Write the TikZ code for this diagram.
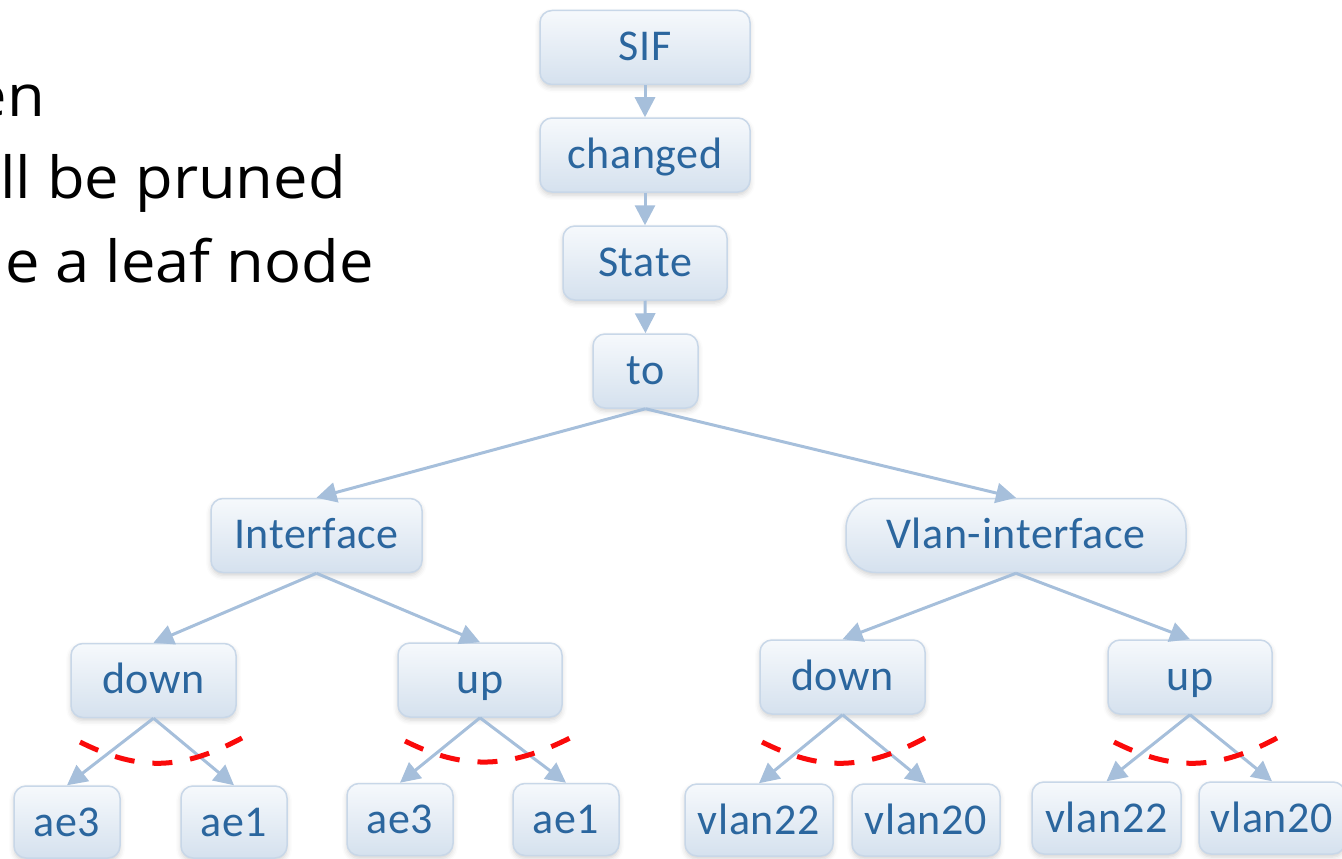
\documentclass[tikz,border=0pt]{standalone}
\usepackage{fontspec}
\setmainfont{Carlito}
\newfontfamily\notefont[FakeStretch=1.06]{Open Sans}
\usetikzlibrary{arrows.meta,shadows.blur}
\definecolor{boxtext}{RGB}{43,102,158}
\definecolor{boxedge}{RGB}{200,215,232}
\definecolor{boxtop}{RGB}{246,249,252}
\definecolor{boxbot}{RGB}{213,225,238}
\definecolor{linkcol}{RGB}{166,191,219}
\definecolor{prunered}{RGB}{250,10,10}
\begin{document}
\begin{tikzpicture}[x=1pt,y=-1pt,
  box/.style={draw=boxedge, line width=1.5pt, rounded corners=12pt,
    top color=boxtop, bottom color=boxbot, text=boxtext,
    font=\addfontfeature{LetterSpace=1.5}\fontsize{44}{50}\selectfont, minimum height=74pt, inner sep=0pt,
    text height=34pt, text depth=8pt,
    blur shadow={shadow xshift=0pt, shadow yshift=-3pt, shadow blur radius=5pt, shadow opacity=18}},
  leaf/.style={box, minimum height=72pt, text depth=6pt},
  link/.style={draw=linkcol, line width=3pt, -{Triangle[width=20pt,length=20pt]}},
  prune/.style={draw=prunered, line width=5pt, dash pattern=on 20pt off 18pt},
  note/.style={font=\notefont\fontsize{58}{70}\selectfont, anchor=base east, inner sep=0pt}]
\useasboundingbox (0,0) rectangle (1342,859);
\clip (0,0) rectangle (1342,859);

% explanatory text, running in from the left margin
\node[note] (n1) at (45,117) {en};
\node[note] (n2) at (346,198) {ll be pruned};
\node[note] (n3) at (374,282) {e a leaf node};

% chain
\node[box, minimum width=210pt] (sif) at (645,47.5) {SIF};
\node[box, minimum width=210pt] (changed) at (645,155) {changed};
\node[box, minimum width=164pt] (state) at (645,263) {State};
\node[box, minimum width=105pt] (to) at (645.5,371) {to};

% second level
\node[box, minimum width=211pt] (iface) at (316.5,535.5) {Interface};
\node[box, minimum width=340pt, rounded corners=30pt] (vlan) at (1016,535.5) {Vlan-interface};

% third level
\node[box, minimum width=165pt] (idown) at (153.5,680.5) {down};
\node[box, minimum width=164pt] (iup) at (480,680) {up};
\node[box, minimum width=165pt] (vdown) at (842.5,677) {down};
\node[box, minimum width=164pt] (vup) at (1190,677) {up};

% leaves
\node[leaf, minimum width=106pt] (l1) at (67,822) {ae3};
\node[leaf, minimum width=106pt] (l2) at (234,822) {ae1};
\node[leaf, minimum width=106pt] (l3) at (400,819.5) {ae3};
\node[leaf, minimum width=106pt] (l4) at (566,819.5) {ae1};
\node[leaf, minimum width=148pt] (l5) at (759,820) {vlan22};
\node[leaf, minimum width=148pt] (l6) at (926,820) {vlan20};
\node[leaf, minimum width=149pt] (l7) at (1106.5,818) {vlan22};
\node[leaf, minimum width=146pt] (l8) at (1272,818) {vlan20};

% connectors
\draw[link] (sif.south) -- (changed.north);
\draw[link] (changed.south) -- (state.north);
\draw[link] (state.south) -- (to.north);
\draw[link] (to.south) -- (iface.north);
\draw[link] (to.south) -- (vlan.north);
\draw[link] (iface.south) -- (idown.north);
\draw[link] (iface.south) -- (iup.north);
\draw[link] (vlan.south) -- (vdown.north);
\draw[link] (vlan.south) -- (vup.north);
\draw[link] (idown.south) -- (l1.north);
\draw[link] (idown.south) -- (l2.north);
\draw[link] (iup.south) -- (l3.north);
\draw[link] (iup.south) -- (l4.north);
\draw[link] (vdown.south) -- (l5.north);
\draw[link] (vdown.south) -- (l6.north);
\draw[link] (vup.south) -- (l7.north);
\draw[link] (vup.south) -- (l8.north);

% pruning cuts
\draw[prune] (80,742) .. controls (140,772) and (182,770) .. (242,738);
\draw[prune] (405,741) .. controls (465,771) and (510,768) .. (570,738);
\draw[prune] (762,742) .. controls (822,772) and (865,770) .. (925,738);
\draw[prune] (1114,742) .. controls (1174,772) and (1217,770) .. (1277,738);
\end{tikzpicture}
\end{document}
